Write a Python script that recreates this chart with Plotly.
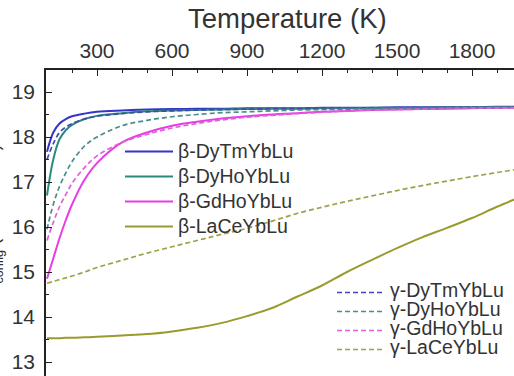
import plotly.graph_objects as go

# ---- data ----
temperature = [100, 125, 150, 175, 200, 250, 300, 400, 500, 600, 700, 800, 900, 1000,
               1100, 1200, 1300, 1400, 1500, 1600, 1700, 1800, 1900, 2000]

beta_DyTmYbLu = [17.67, 18.10, 18.30, 18.40, 18.46, 18.52, 18.56, 18.59, 18.61, 18.62, 18.63, 18.63,
                 18.64, 18.64, 18.64, 18.65, 18.65, 18.65, 18.66, 18.66, 18.66, 18.66, 18.67, 18.67]
beta_DyHoYbLu = [16.70, 17.50, 17.95, 18.15, 18.27, 18.40, 18.47, 18.53, 18.57, 18.59, 18.60, 18.61,
                 18.62, 18.63, 18.63, 18.64, 18.64, 18.65, 18.65, 18.65, 18.66, 18.66, 18.66, 18.67]
beta_GdHoYbLu = [14.85, 15.30, 15.75, 16.15, 16.50, 17.05, 17.42, 17.88, 18.10, 18.25, 18.34, 18.41,
                 18.46, 18.50, 18.53, 18.56, 18.58, 18.60, 18.61, 18.62, 18.63, 18.64, 18.65, 18.65]
beta_LaCeYbLu = [13.53, 13.53, 13.53, 13.54, 13.54, 13.55, 13.56, 13.59, 13.62, 13.68, 13.76, 13.87,
                 14.02, 14.20, 14.45, 14.70, 15.00, 15.27, 15.53, 15.77, 15.98, 16.20, 16.45, 16.68]

gamma_DyTmYbLu = [17.50, 17.85, 18.10, 18.22, 18.30, 18.40, 18.46, 18.52, 18.56, 18.58, 18.60, 18.61,
                  18.62, 18.63, 18.63, 18.64, 18.64, 18.65, 18.65, 18.65, 18.66, 18.66, 18.66, 18.67]
gamma_DyHoYbLu = [15.95, 16.50, 16.90, 17.20, 17.45, 17.80, 18.00, 18.25, 18.37, 18.45, 18.50, 18.54,
                  18.56, 18.58, 18.60, 18.61, 18.62, 18.63, 18.64, 18.64, 18.65, 18.65, 18.66, 18.66]
gamma_GdHoYbLu = [15.70, 16.10, 16.45, 16.72, 16.97, 17.32, 17.58, 17.88, 18.06, 18.20, 18.30, 18.38,
                  18.44, 18.48, 18.52, 18.55, 18.58, 18.60, 18.61, 18.62, 18.63, 18.64, 18.65, 18.65]
gamma_LaCeYbLu = [14.75, 14.79, 14.83, 14.87, 14.91, 15.00, 15.10, 15.26, 15.42, 15.56, 15.70, 15.84,
                  15.97, 16.13, 16.30, 16.44, 16.57, 16.69, 16.81, 16.92, 17.02, 17.12, 17.21, 17.30]

beta_names = ["β-DyTmYbLu", "β-DyHoYbLu", "β-GdHoYbLu", "β-LaCeYbLu"]
gamma_names = ["γ-DyTmYbLu", "γ-DyHoYbLu", "γ-GdHoYbLu", "γ-LaCeYbLu"]
beta_series = [beta_DyTmYbLu, beta_DyHoYbLu, beta_GdHoYbLu, beta_LaCeYbLu]
gamma_series = [gamma_DyTmYbLu, gamma_DyHoYbLu, gamma_GdHoYbLu, gamma_LaCeYbLu]

beta_colors = ["#3535c8", "#2a8c78", "#e83ce6", "#9a9a2e"]
gamma_colors = ["#4545b4", "#4a8c8c", "#e060d8", "#a0a04a"]

fig = go.Figure()
for name, ys, col in zip(beta_names, beta_series, beta_colors):
    fig.add_trace(go.Scatter(
        x=temperature, y=ys, mode="lines", line=dict(color=col, width=2, shape="spline"),
        name=f'<span style="font-size:19.5px">{name}</span>', legend="legend"))
for name, ys, col in zip(gamma_names, gamma_series, gamma_colors):
    fig.add_trace(go.Scatter(
        x=temperature, y=ys, mode="lines",
        line=dict(color=col, width=1.7, dash="5px,3px", shape="spline"),
        name=f'<span style="font-size:19.5px">{name}</span>', legend="legend2"))

axis_col = "#222222"
fig.update_layout(
    width=514, height=376,
    margin=dict(l=46, r=0, t=70, b=0, autoexpand=False),
    paper_bgcolor="white", plot_bgcolor="white",
    font=dict(family="Liberation Sans, Arial, sans-serif", color="#333333"),
    xaxis=dict(
        side="top", range=[96, 1968], showgrid=False, zeroline=False, automargin=False,
        showline=True, linecolor=axis_col, linewidth=1.5,
        ticks="inside", ticklen=6, tickwidth=1.3, tickcolor=axis_col, ticklabelstandoff=2,
        tick0=0, dtick=300, tickfont=dict(size=21, color="#333333"),
        minor=dict(dtick=100, ticks="inside", ticklen=3.5, tickwidth=1.2,
                   tickcolor=axis_col, showgrid=False),
    ),
    yaxis=dict(
        range=[12.689, 19.489], showgrid=False, zeroline=False, automargin=False,
        showline=True, linecolor=axis_col, linewidth=1.5,
        ticks="inside", ticklen=6, tickwidth=1.3, tickcolor=axis_col, ticklabelstandoff=5,
        tick0=0, dtick=1, tickfont=dict(size=21, color="#333333"),
        minor=dict(dtick=0.5, ticks="inside", ticklen=3.5, tickwidth=1.2,
                   tickcolor=axis_col, showgrid=False),
    ),
    legend=dict(x=(120 - 46) / 468, y=(376 - 134) / 306, xanchor="left", yanchor="top",
                bgcolor="rgba(0,0,0,0)", font=dict(size=16.9, color="#333333"),
                itemwidth=48, tracegroupgap=0),
    legend2=dict(x=(332 - 46) / 468, y=(376 - 278) / 306, xanchor="left", yanchor="top",
                 bgcolor="rgba(0,0,0,0)", font=dict(size=12.3, color="#333333"),
                 itemwidth=48, tracegroupgap=0),
    annotations=[
        dict(text="Temperature (K)", xref="paper", yref="paper",
             x=(287 - 46) / 468, y=(376 - 19) / 306, xanchor="center", yanchor="middle",
             showarrow=False, font=dict(size=27.5, color="#333333")),
        dict(text="S<sub>config</sub> (J mol<sup>−1</sup> K<sup>−1</sup>)", xref="paper", yref="paper",
             x=(7 - 46) / 468, y=(376 - 220) / 306, xanchor="right", yanchor="middle",
             textangle=-90, showarrow=False, font=dict(size=18, color="#333333")),
    ],
)

fig.write_html("out.html", config={"displayModeBar": False},
               post_script="document.body.style.margin='0px';document.body.style.padding='0px';")
